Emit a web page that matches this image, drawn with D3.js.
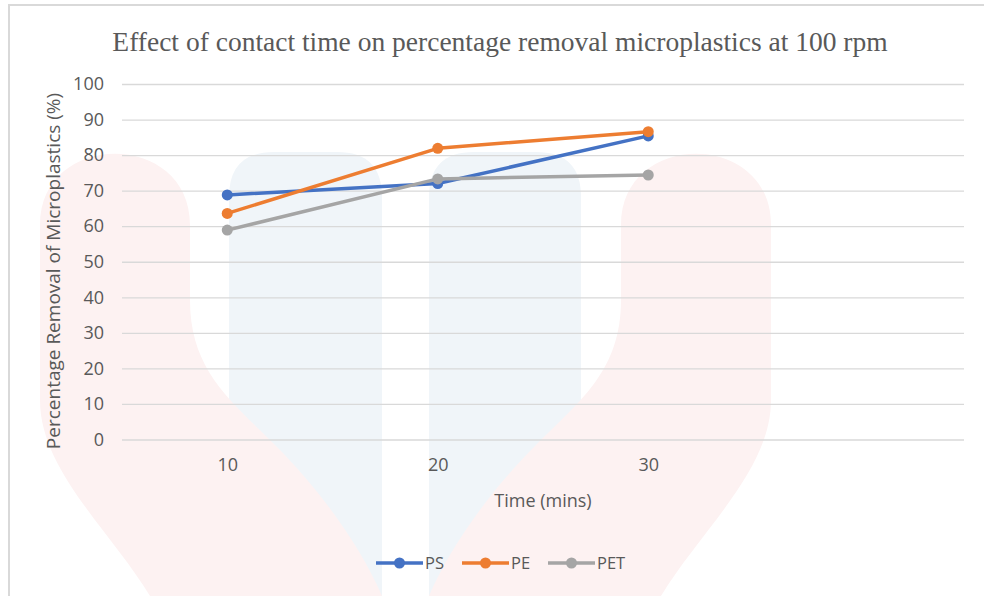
<!DOCTYPE html>
<html>
<head>
<meta charset="utf-8">
<script src="https://cdn.jsdelivr.net/npm/d3@7"></script>
<style>
  body { margin: 0; background: #fff; }
  svg { display: block; }
</style>
</head>
<body>
<svg id="chart" width="984" height="596"></svg>
<script>
// data
const times = ["10", "20", "30", ""]
const yTicks = [0, 10, 20, 30, 40, 50, 60, 70, 80, 90, 100]
const ps = [68.8, 72.0, 85.4]
const pe = [63.6, 81.9, 86.6]
const pet = [58.9, 73.3, 74.4]
const seriesNames = ["PS", "PE", "PET"]
const colors = ["#4472C4", "#ED7D31", "#A5A5A5"]

const series = [ps, pe, pet].map((vals, i) => ({
  name: seriesNames[i],
  color: colors[i],
  values: vals.map((v, j) => ({ t: times[j], v }))
}))

const svg = d3.select("#chart")
const W = 984, H = 596
const plot = { left: 122, right: 964, top: 84, bottom: 439.5 }
const font = "'Open Sans', sans-serif"

// faint watermark behind the chart
const wm = svg.append("g")
const blue = "#f0f5f9", red = "#fdf2f2"
function pillar(x0, x1, top, r) {
  return `M${x0},${H} L${x0},${top + r} Q${x0},${top} ${x0 + r},${top} L${x1 - r},${top} Q${x1},${top} ${x1},${top + r} L${x1},${H} Z`
}
wm.append("path").attr("d", pillar(229, 382, 152, 45)).attr("fill", blue)
wm.append("path").attr("d", pillar(429, 581, 152, 45)).attr("fill", blue)
const cx = 405.5
function redShape(m) {
  const X = x => m ? 2 * cx - x : x
  return `M${X(40)},${H} L${X(40)},225 C${X(40)},130 ${X(190)},130 ${X(190)},225 L${X(190)},300 C${X(190)},370 ${X(230)},400 ${X(275)},445 C${X(320)},490 ${X(360)},545 ${X(382)},${H} L${X(150)},${H} C${X(110)},530 ${X(40)},470 ${X(40)},400 Z`
}
wm.append("path").attr("d", redShape(false)).attr("fill", red)
wm.append("path").attr("d", redShape(true)).attr("fill", red)

// frame
svg.append("path")
  .attr("d", `M9,${H} L9,5 L${W},5`)
  .attr("fill", "none").attr("stroke", "#d9d9d9").attr("stroke-width", 2)

const x = d3.scalePoint().domain(times).range([plot.left, plot.right]).padding(0.5)
const y = d3.scaleLinear().domain([0, 100]).range([plot.bottom, plot.top])

// gridlines + y labels
const yAxis = svg.append("g")
  .attr("transform", `translate(${plot.left},0)`)
  .call(d3.axisLeft(y).tickValues(yTicks).tickSize(-(plot.right - plot.left)).tickPadding(18))
yAxis.select(".domain").remove()
yAxis.selectAll(".tick line").attr("stroke", "#d9d9d9").attr("stroke-width", 1.3)
yAxis.selectAll(".tick text")
  .attr("fill", "#595959").attr("font-family", font).attr("font-size", 18)

// x labels
const xAxis = svg.append("g")
  .attr("transform", `translate(0,${plot.bottom})`)
  .call(d3.axisBottom(x).tickSize(0).tickPadding(19))
xAxis.select(".domain").remove()
xAxis.selectAll(".tick text")
  .attr("fill", "#595959").attr("font-family", font).attr("font-size", 18)

// lines
const line = d3.line().x(d => x(d.t)).y(d => y(d.v))
const g = svg.append("g")
series.forEach(s => {
  g.append("path").datum(s.values)
    .attr("d", line).attr("fill", "none")
    .attr("stroke", s.color).attr("stroke-width", 3.5).attr("stroke-linejoin", "round")
  g.selectAll(null).data(s.values).enter().append("circle")
    .attr("cx", d => x(d.t)).attr("cy", d => y(d.v)).attr("r", 5.5)
    .attr("fill", s.color)
})

// titles
svg.append("text")
  .attr("x", 500).attr("y", 51).attr("text-anchor", "middle")
  .attr("fill", "#595959")
  .style("font-family", "'Liberation Serif', 'Times New Roman', serif").style("font-size", "27.5px")
  .text("Effect of contact time on percentage removal microplastics at 100 rpm")

svg.append("text")
  .attr("x", (plot.left + plot.right) / 2).attr("y", 507).attr("text-anchor", "middle")
  .attr("fill", "#595959")
  .style("font-family", font).style("font-size", "18px")
  .text("Time (mins)")

svg.append("text")
  .attr("transform", `translate(60,${271}) rotate(-90)`)
  .attr("text-anchor", "middle")
  .attr("fill", "#595959")
  .style("font-family", font).style("font-size", "19px")
  .text("Percentage Removal of Microplastics (%)")

// legend
const legendX = [376, 462, 548]
const lg = svg.append("g")
series.forEach((s, i) => {
  const item = lg.append("g").attr("transform", `translate(${legendX[i]},563)`)
  item.append("line").attr("x1", 0).attr("x2", 47).attr("y1", 0).attr("y2", 0)
    .attr("stroke", s.color).attr("stroke-width", 3.5)
  item.append("circle").attr("cx", 23.5).attr("cy", 0).attr("r", 5.5).attr("fill", s.color)
  item.append("text").attr("x", 49).attr("y", 6)
    .attr("fill", "#595959")
    .style("font-family", font).style("font-size", "16.5px")
    .text(s.name)
})
</script>
</body>
</html>
